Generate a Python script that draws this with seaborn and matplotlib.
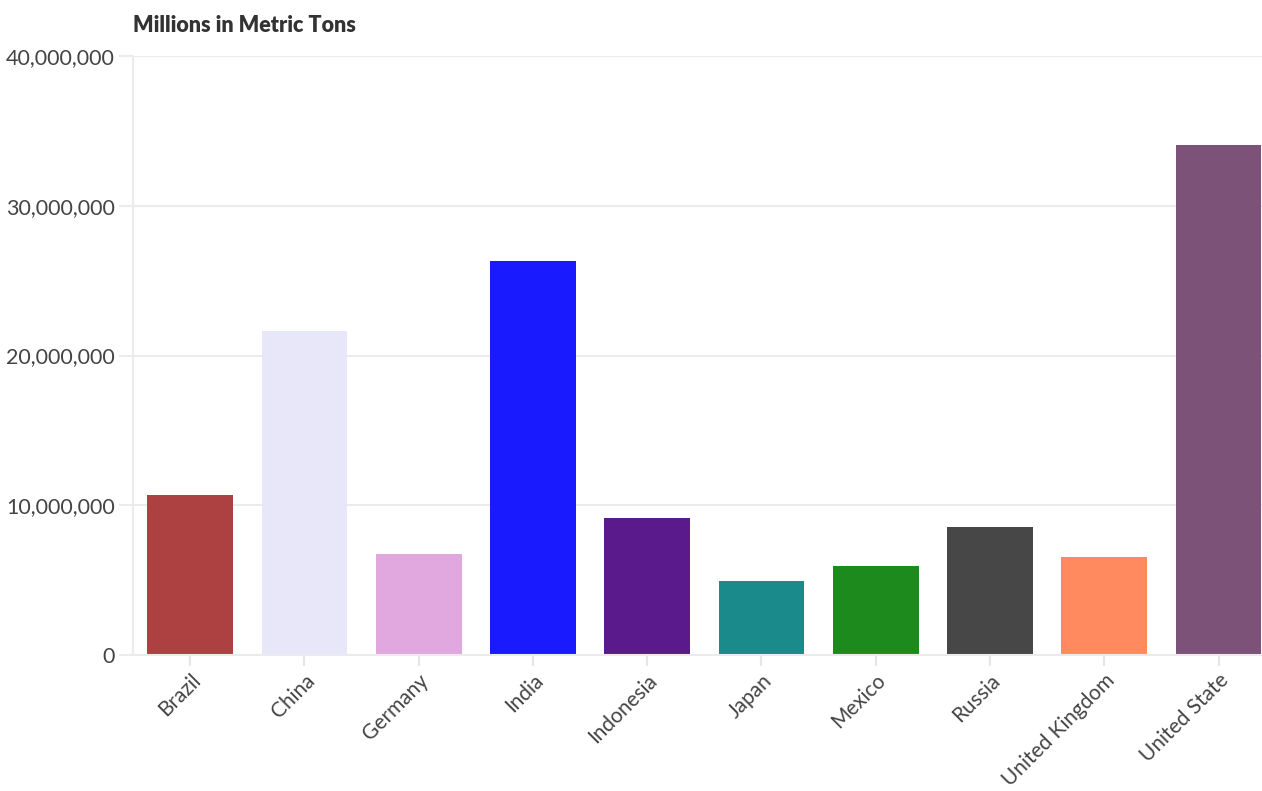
import matplotlib
matplotlib.use("Agg")
import matplotlib.pyplot as plt
import seaborn as sns
import pandas as pd
from matplotlib.ticker import FuncFormatter

countries = ["Brazil", "China", "Germany", "India", "Indonesia", "Japan",
             "Mexico", "Russia", "United Kingdom", "United State"]
values = [10680000, 21640000, 6740000, 26310000, 9150000, 4940000,
          5940000, 8550000, 6540000, 34060000]
colors = ["#ad4040", "#e8e6f9", "#e0a8df", "#1a1aff", "#5a1a8c", "#1a8a8a",
          "#1c8a1c", "#474747", "#ff8a60", "#7c5278"]
yticks = [0, 10000000, 20000000, 30000000, 40000000]

sns.set_theme(style="white")
plt.rcParams["font.family"] = ["Lato", "DejaVu Sans"]

df = pd.DataFrame({"country": countries, "value": values})

fig = plt.figure(figsize=(12.62, 7.91), dpi=100)
ax = fig.add_axes([133 / 1262, 1 - 655 / 791, (1262 - 133) / 1262, (655 - 56) / 791])

sns.barplot(data=df, x="country", y="value", hue="country", palette=colors,
            legend=False, width=0.75, ax=ax, saturation=1, edgecolor="none")

ax.set_xlim(-0.5, 9.38)
ax.set_ylim(0, 40000000)
ax.set_yticks(yticks)
ax.yaxis.set_major_formatter(FuncFormatter(lambda v, p: f"{int(v):,}"))
ax.grid(axis="y", color="#ebebeb", linewidth=1.5)
ax.set_axisbelow(True)
for s in ["top", "right"]:
    ax.spines[s].set_visible(False)
ax.spines["left"].set_color("#ebebeb")
ax.spines["bottom"].set_color("#ebebeb")
ax.spines["left"].set_linewidth(1.5)
ax.spines["bottom"].set_linewidth(1.5)
ax.tick_params(axis="x", length=8, color="#e6e6e6", width=1.5, labelsize=15,
               labelcolor="#444444", pad=3)
ax.tick_params(axis="y", length=10, color="#ebebeb", width=1.5, labelsize=15.5,
               labelcolor="#444444", pad=3, left=True)
ax.tick_params(axis="x", bottom=True)
for lbl in ax.get_xticklabels():
    lbl.set_rotation(45)
    lbl.set_ha("right")
    lbl.set_va("top")
    lbl.set_rotation_mode("anchor")
ax.set_xlabel("")
ax.set_ylabel("")

fig.text(133 / 1262, 1 - 25 / 791, "Millions in Metric Tons", fontsize=15.5,
         fontweight="heavy", color="#333333", ha="left", va="center")

fig.savefig("out.png", dpi=100)
